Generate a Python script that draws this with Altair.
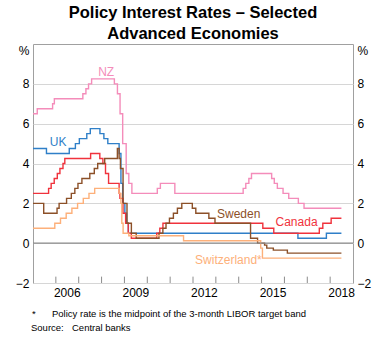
import altair as alt
import pandas as pd

# ---------------- data (policy rates, %, step changes) ----------------
END = "2018-06-30"

nz_dates = ["2005-01-01", "2005-03-10", "2005-11-10", "2005-12-08", "2007-03-08", "2007-04-26",
            "2007-06-07", "2007-07-26", "2008-07-24", "2008-09-11", "2008-10-23", "2008-12-04",
            "2009-01-29", "2009-03-12", "2009-04-30", "2010-06-10", "2010-07-29", "2011-03-17",
            "2014-03-13", "2014-04-24", "2014-06-12", "2014-07-24", "2015-06-11", "2015-07-23",
            "2015-09-10", "2015-12-10", "2016-03-10", "2016-08-11", "2016-11-10"]
nz_rates = [6.50, 6.75, 7.00, 7.25, 7.50, 7.75, 8.00, 8.25, 8.00, 7.50, 6.50, 5.00,
            3.50, 3.00, 2.50, 2.75, 3.00, 2.50, 2.75, 3.00, 3.25, 3.50, 3.25, 3.00,
            2.75, 2.50, 2.25, 2.00, 1.75]

uk_dates = ["2005-01-01", "2005-08-04", "2006-08-03", "2006-11-09", "2007-01-11", "2007-05-10",
            "2007-07-05", "2007-12-06", "2008-02-07", "2008-04-10", "2008-10-08", "2008-11-06",
            "2008-12-04", "2009-01-08", "2009-02-05", "2009-03-05", "2016-08-04", "2017-11-02"]
uk_rates = [4.75, 4.50, 4.75, 5.00, 5.25, 5.50, 5.75, 5.50, 5.25, 5.00, 4.50, 3.00,
            2.00, 1.50, 1.00, 0.50, 0.25, 0.50]

ca_dates = ["2005-01-01", "2005-09-07", "2005-10-18", "2005-12-06", "2006-01-24", "2006-03-07",
            "2006-04-25", "2006-05-24", "2007-07-10", "2007-12-04", "2008-01-22", "2008-03-04",
            "2008-04-22", "2008-10-08", "2008-10-21", "2008-12-09", "2009-01-20", "2009-03-03",
            "2009-04-21", "2010-06-01", "2010-07-20", "2010-09-08", "2015-01-21", "2015-07-15",
            "2017-07-12", "2017-09-06", "2018-01-17"]
ca_rates = [2.50, 2.75, 3.00, 3.25, 3.50, 3.75, 4.00, 4.25, 4.50, 4.25, 4.00, 3.50,
            3.00, 2.50, 2.25, 1.50, 1.00, 0.50, 0.25, 0.50, 0.75, 1.00, 0.75, 0.50,
            0.75, 1.00, 1.25]

se_dates = ["2005-01-01", "2005-06-21", "2006-01-20", "2006-02-22", "2006-06-21", "2006-09-05",
            "2006-10-31", "2006-12-20", "2007-02-21", "2007-06-27", "2007-09-07", "2007-10-31",
            "2008-02-20", "2008-09-10", "2008-10-08", "2008-10-29", "2008-12-10", "2009-02-11",
            "2009-04-22", "2009-07-08", "2010-07-07", "2010-09-07", "2010-10-27", "2010-12-21",
            "2011-02-22", "2011-04-27", "2011-07-06", "2011-12-21", "2012-02-15", "2012-09-11",
            "2012-12-18", "2014-07-09", "2014-10-29", "2015-02-18", "2015-03-25", "2015-07-08",
            "2016-02-17"]
se_rates = [2.00, 1.50, 1.75, 2.00, 2.25, 2.50, 2.75, 3.00, 3.25, 3.50, 3.75, 4.00,
            4.25, 4.75, 4.25, 3.75, 2.00, 1.00, 0.50, 0.25, 0.50, 0.75, 1.00, 1.25,
            1.50, 1.75, 2.00, 1.75, 1.50, 1.25, 1.00, 0.25, 0.00, -0.10, -0.25, -0.35,
            -0.50]

ch_dates = ["2005-01-01", "2005-12-15", "2006-03-16", "2006-06-15", "2006-09-14", "2006-12-14",
            "2007-03-15", "2007-06-14", "2007-09-13", "2008-10-08", "2008-11-06", "2008-11-20",
            "2008-12-11", "2009-03-12", "2011-08-03", "2014-12-18", "2015-01-15"]
ch_rates = [0.75, 1.00, 1.25, 1.50, 1.75, 2.00, 2.25, 2.50, 2.75, 2.50, 2.00, 1.00,
            0.50, 0.375, 0.125, -0.25, -0.75]

series_names = ["NZ", "UK", "Canada", "Sweden", "Switzerland"]
series_colors = ["#F48CBA", "#2F7FC8", "#F0323C", "#8C5028", "#FDB07A"]

# label annotations: text, decimal year, value
label_text = ["NZ", "UK", "Canada", "Sweden", "Switzerland*"]
label_x = [2008.2, 2006.1, 2016.53, 2014.0, 2013.55]
label_y = [8.6, 5.1, 1.05, 1.47, -0.83]

tick_years = list(range(2006, 2019))
year_labels = [2006, 2009, 2012, 2015, 2018]
y_ticks = [-2, 0, 2, 4, 6, 8]

title_lines = ["Policy Interest Rates – Selected", "Advanced Economies"]
note_star = "*"
note_text = "Policy rate is the midpoint of the 3-month LIBOR target band"
src_head = "Source:"
src_text = "Central banks"


def dec_year(d):
    t = pd.Timestamp(d)
    days = 366 if t.is_leap_year else 365
    return t.year + (t.dayofyear - 1) / days


rows = []
for name, ds, rs in [("NZ", nz_dates, nz_rates), ("UK", uk_dates, uk_rates),
                     ("Canada", ca_dates, ca_rates), ("Sweden", se_dates, se_rates),
                     ("Switzerland", ch_dates, ch_rates)]:
    for d, r in zip(ds + [END], rs + [rs[-1]]):
        rows.append({"series": name, "t": dec_year(d), "rate": r})
df = pd.DataFrame(rows)

FONT = "Liberation Sans"
xscale = alt.Scale(domain=[2005, 2019], nice=False, zero=False)
yscale = alt.Scale(domain=[-2, 10], nice=False, zero=False)
cscale = alt.Scale(domain=series_names, range=series_colors)


def yaxis(orient):
    return alt.Axis(orient=orient, values=y_ticks, grid=(orient == "left"), gridColor="#d6d6d6",
                    ticks=False, domain=False, labelPadding=4, labelFontSize=12, labelFont=FONT,
                    labelColor="black", title="%", titleAngle=0, titleFontSize=12,
                    titleFont=FONT, titleFontWeight="normal", titleColor="black",
                    titleAlign="right" if orient == "left" else "left", titleBaseline="top",
                    titleX=-4 if orient == "left" else 4, titleY=1)


lines = alt.Chart(df).mark_line(interpolate="step-after", strokeWidth=1.4).encode(
    x=alt.X("t:Q", scale=xscale, axis=None),
    y=alt.Y("rate:Q", scale=yscale, axis=yaxis("left")),
    color=alt.Color("series:N", scale=cscale, legend=None),
)

zero = alt.Chart(pd.DataFrame({"z": [0]})).mark_rule(color="#8c8c8c", strokeWidth=1.2).encode(
    y=alt.Y("z:Q", scale=yscale, axis=yaxis("right"))
)

tick_df = pd.DataFrame({"yr": tick_years})
tick_df["lo"] = -2.0
tick_df["hi"] = -1.68
ticks = alt.Chart(tick_df).mark_rule(color="#8c8c8c", strokeWidth=1).encode(
    x=alt.X("yr:Q", scale=xscale, axis=None),
    y=alt.Y("lo:Q", scale=yscale, axis=None),
    y2=alt.Y2("hi:Q"),
)

ylab_df = pd.DataFrame({"year": year_labels})
ylab_df["mid"] = ylab_df["year"] + 0.5
ylab_df["base"] = -2.0
ylab_df["label"] = ylab_df["year"].astype(str)
xlabels = alt.Chart(ylab_df).mark_text(font=FONT, fontSize=12, baseline="top", dy=5,
                                       color="black").encode(
    x=alt.X("mid:Q", scale=xscale, axis=None),
    y=alt.Y("base:Q", scale=yscale, axis=None),
    text="label:N",
)

labels = alt.Chart(pd.DataFrame({"text": label_text, "x": label_x, "y": label_y,
                                 "series": series_names})).mark_text(
    font=FONT, fontSize=12, align="center", baseline="middle").encode(
    x=alt.X("x:Q", scale=xscale, axis=None),
    y=alt.Y("y:Q", scale=yscale, axis=None),
    text="text:N",
    color=alt.Color("series:N", scale=cscale, legend=None),
)

foot = alt.Chart(pd.DataFrame({"a": [0]}))
n1 = foot.mark_text(text=note_star, font=FONT, fontSize=9.5, align="left", baseline="middle",
                    color="black").encode(x=alt.value(-1), y=alt.value(270))
n2 = foot.mark_text(text=note_text, font=FONT, fontSize=9.5, align="left", baseline="middle",
                    color="black").encode(x=alt.value(19), y=alt.value(270))
n3 = foot.mark_text(text=src_head, font=FONT, fontSize=9.5, align="left", baseline="middle",
                    color="black").encode(x=alt.value(-2), y=alt.value(284))
n4 = foot.mark_text(text=src_text, font=FONT, fontSize=9.5, align="left", baseline="middle",
                    color="black").encode(x=alt.value(39), y=alt.value(284))

chart = alt.layer(lines, zero, ticks, xlabels, labels, n1, n2, n3, n4).resolve_axis(
    y="independent"
).properties(
    width=320, height=239,
    autosize=alt.AutoSizeParams(type="none"),
    padding={"left": 33, "top": 44, "right": 35, "bottom": 58},
    title=alt.TitleParams(text=title_lines, font=FONT, fontSize=16.5, fontWeight="bold",
                          color="black", anchor="middle", offset=2, lineHeight=21),
    background="white",
).configure_view(stroke="#a0a0a0", strokeWidth=1)

chart.save("out.html", embed_options={"renderer": "svg", "actions": False})
